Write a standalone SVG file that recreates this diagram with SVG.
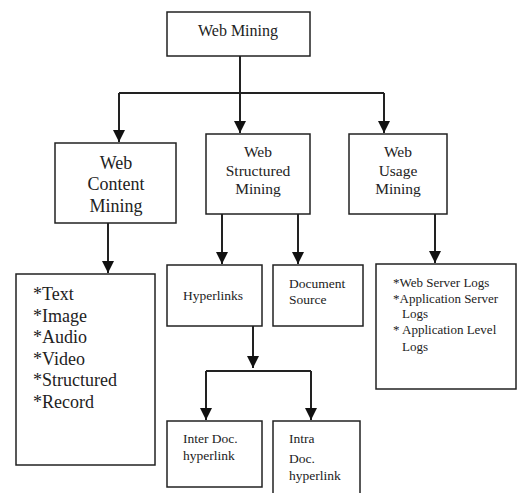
<svg xmlns="http://www.w3.org/2000/svg" width="518" height="493" viewBox="0 0 518 493">
<style>
.box{fill:#fff;stroke:#222;stroke-width:1.5}
text{font-family:"Liberation Serif","Times New Roman",serif;fill:#222}
.c{text-anchor:middle}
.edge{fill:none;stroke:#222;stroke-width:2}
</style>
<defs>
<marker id="ah" markerUnits="userSpaceOnUse" markerWidth="12" markerHeight="12" viewBox="0 0 12 12" refX="12" refY="6" orient="auto">
<path d="M0,0 L12,6 L0,12 Z" fill="#111"/>
</marker>
</defs>
<rect width="518" height="493" fill="#fff"/>
<g id="connectors">
<path class="edge" d="M240,56 V93"/>
<path class="edge" d="M119,93 H384"/>
<path class="edge" d="M119,93 V142" marker-end="url(#ah)"/>
<path class="edge" d="M240,93 V133" marker-end="url(#ah)"/>
<path class="edge" d="M384,93 V133" marker-end="url(#ah)"/>
<path class="edge" d="M108,223 V273" marker-end="url(#ah)"/>
<path class="edge" d="M222,214 V264" marker-end="url(#ah)"/>
<path class="edge" d="M298,214 V264" marker-end="url(#ah)"/>
<path class="edge" d="M435,214 V263" marker-end="url(#ah)"/>
<path class="edge" d="M253,326 V368" marker-end="url(#ah)"/>
<path class="edge" d="M206,371 H311"/>
<path class="edge" d="M206,371 V420" marker-end="url(#ah)"/>
<path class="edge" d="M311,371 V420" marker-end="url(#ah)"/>
</g>
<g id="web-mining">
<rect class="box" x="167" y="12" width="143" height="44"/>
<text class="c" x="238" y="36" font-size="16">Web Mining</text>
</g>
<g id="web-content-mining">
<rect class="box" x="55" y="143" width="121" height="80"/>
<text class="c" x="116" y="169" font-size="18">Web</text>
<text class="c" x="116" y="190" font-size="18">Content</text>
<text class="c" x="116" y="212" font-size="18">Mining</text>
</g>
<g id="web-structured-mining">
<rect class="box" x="206" y="134" width="104" height="80"/>
<text class="c" x="258" y="157" font-size="15.5">Web</text>
<text class="c" x="258" y="176" font-size="15.5">Structured</text>
<text class="c" x="258" y="194" font-size="15.5">Mining</text>
</g>
<g id="web-usage-mining">
<rect class="box" x="349" y="134" width="98" height="80"/>
<text class="c" x="398" y="157" font-size="15.5">Web</text>
<text class="c" x="398" y="176" font-size="15.5">Usage</text>
<text class="c" x="398" y="194" font-size="15.5">Mining</text>
</g>
<g id="content-types">
<rect class="box" x="16" y="274" width="139" height="191"/>
<text x="33" y="300" font-size="18">*Text</text>
<text x="33" y="322" font-size="18">*Image</text>
<text x="33" y="343" font-size="18">*Audio</text>
<text x="33" y="365" font-size="18">*Video</text>
<text x="33" y="386" font-size="18">*Structured</text>
<text x="33" y="408" font-size="18">*Record</text>
</g>
<g id="hyperlinks">
<rect class="box" x="167" y="265" width="95" height="61"/>
<text x="183" y="300" font-size="13.5">Hyperlinks</text>
</g>
<g id="document-source">
<rect class="box" x="273" y="265" width="90" height="61"/>
<text x="289" y="288" font-size="13.5">Document</text>
<text x="289" y="304" font-size="13.5">Source</text>
</g>
<g id="usage-logs">
<rect class="box" x="376" y="264" width="140" height="125"/>
<text x="393" y="287" font-size="13">*Web Server Logs</text>
<text x="393" y="303" font-size="13">*Application Server</text>
<text x="402" y="318" font-size="13">Logs</text>
<text x="393" y="334" font-size="13">* Application Level</text>
<text x="402" y="351" font-size="13">Logs</text>
</g>
<g id="inter-doc">
<rect class="box" x="167" y="421" width="95" height="66"/>
<text x="183" y="443" font-size="13.5">Inter Doc.</text>
<text x="183" y="460" font-size="13.5">hyperlink</text>
</g>
<g id="intra-doc">
<rect class="box" x="273" y="421" width="87" height="80"/>
<text x="289" y="443" font-size="13.5">Intra</text>
<text x="289" y="463" font-size="13.5">Doc.</text>
<text x="289" y="480" font-size="13.5">hyperlink</text>
</g>
</svg>
